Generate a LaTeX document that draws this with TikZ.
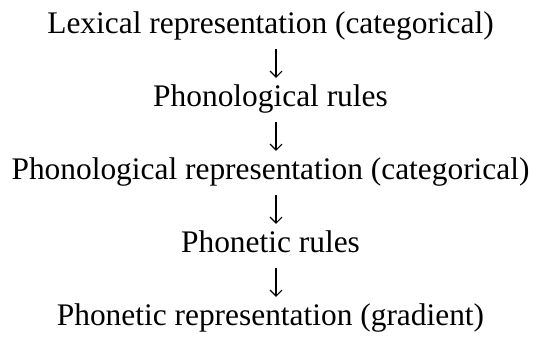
\documentclass[tikz,border=0pt]{standalone}
\usepackage{fontspec}
\setmainfont{Liberation Serif}
\usetikzlibrary{arrows.meta}
\begin{document}
\begin{tikzpicture}[x=1pt,y=1pt,
  level/.style={anchor=base,inner sep=0pt,text height=21pt,text depth=7pt,font=\fontsize{31.4}{36}\selectfont},
  down/.style={line width=1.1pt,-{Straight Barb[length=6pt,width=12pt]},shorten <=9pt,shorten >=7pt}]
\useasboundingbox (0,0) rectangle (541,-338);
\node[level] (lex) at (270.5,-33) {Lexical representation (categorical)};
\node[level] (phonrules) at (270.5,-106) {Phonological rules};
\node[level] (phonrep) at (270.5,-179) {Phonological representation (categorical)};
\node[level] (phetrules) at (270.5,-252) {Phonetic rules};
\node[level] (phetrep) at (270.5,-325) {Phonetic representation (gradient)};
\foreach \a/\b in {lex/phonrules,phonrules/phonrep,phonrep/phetrules,phetrules/phetrep}
  \draw[down] ([xshift=5.5pt]\a.south) -- ([xshift=5.5pt]\b.north);
\end{tikzpicture}
\end{document}
